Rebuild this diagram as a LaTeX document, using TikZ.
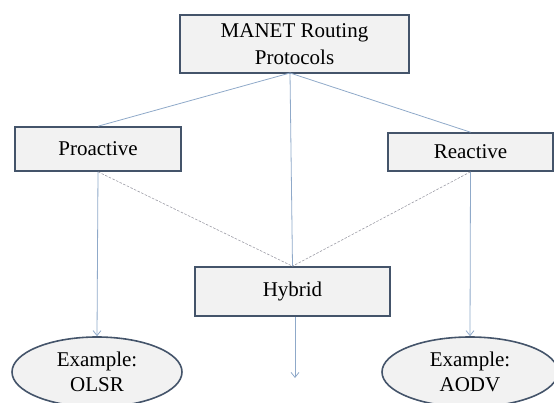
\documentclass[tikz,border=0pt]{standalone}
\usepackage{fontspec}
\setmainfont{Liberation Serif}
\usetikzlibrary{shapes.geometric,arrows.meta}
\definecolor{boxfill}{HTML}{F2F2F2}
\definecolor{boxline}{HTML}{44546A}
\definecolor{conn}{HTML}{8FA9C9}
\definecolor{dashc}{HTML}{9C9CA6}
\tikzset{
  boxnode/.style={draw=boxline, line width=1.6pt, fill=boxfill, rectangle, inner sep=0pt, font=\fontsize{21}{27}\selectfont, align=center},
  ellnode/.style={draw=boxline, line width=1.6pt, fill=boxfill, ellipse, inner sep=0pt, font=\fontsize{21}{25}\selectfont, align=center},
  connector/.style={draw=conn, line width=0.8pt},
  dashconn/.style={draw=dashc, line width=0.6pt, dash pattern=on 2.5pt off 1.5pt},
  arrowconn/.style={connector, -{Straight Barb[length=5pt,width=8pt,line width=0.8pt]}}
}
\begin{document}
\begin{tikzpicture}[x=1pt,y=-1pt]
\useasboundingbox (0,0) rectangle (554,403);
\node[boxnode, minimum width=229pt, minimum height=58pt] (top) at (294.5,44) {MANET Routing\\Protocols};
\node[boxnode, minimum width=166pt, minimum height=44pt] (pro) at (98,149) {Proactive};
\node[boxnode, minimum width=165pt, minimum height=38pt] (rea) at (470.5,152) {Reactive};
\node[boxnode, minimum width=195pt, minimum height=49pt] (hyb) at (292.5,291.5) {Hybrid};
\node[ellnode, minimum width=170pt, minimum height=70pt] (olsr) at (97,372) {Example:\\OLSR};
\node[ellnode, minimum width=176pt, minimum height=70pt] (aodv) at (470,372) {Example:\\AODV};
\coordinate (apex) at (290,73);
\coordinate (hybend) at (295,378);
\draw[connector] (apex) -- (pro.north);
\draw[connector] (apex) -- (rea.north);
\draw[connector] (apex) -- (hyb.north);
\draw[dashconn] (pro.south) -- (hyb.north);
\draw[dashconn] (rea.south) -- (hyb.north);
\draw[arrowconn] (pro.south) -- (olsr.north);
\draw[arrowconn] (rea.south) -- (aodv.north);
\draw[arrowconn] (hyb.south -| hybend) -- (hybend);
\end{tikzpicture}
\end{document}
